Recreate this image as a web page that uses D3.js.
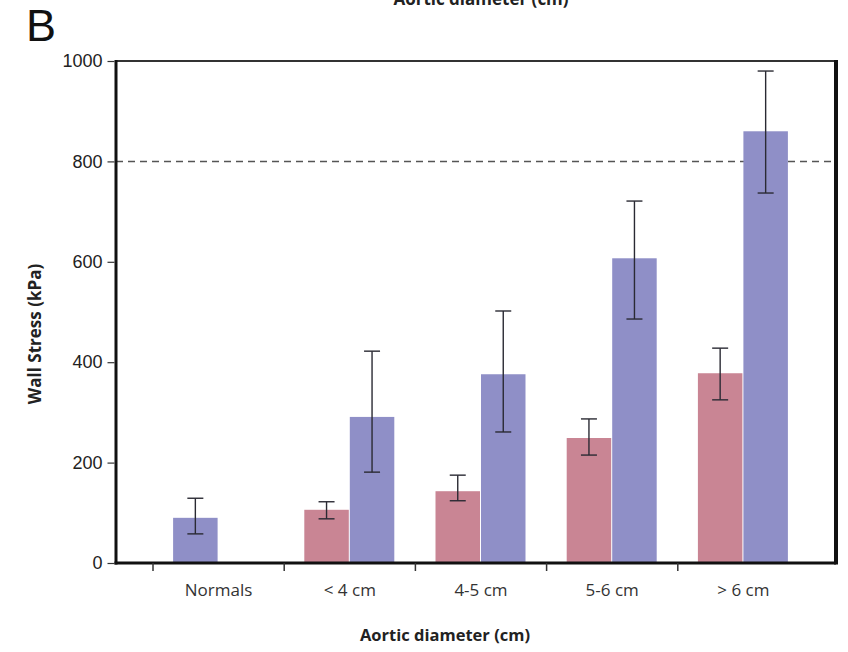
<!DOCTYPE html>
<html>
<head>
<meta charset="utf-8">
<script src="https://cdn.jsdelivr.net/npm/d3@7"></script>
<style>
    body { margin: 0; background: #fff; }
    svg { display: block; }
</style>
</head>
<body>
<svg id="chart" width="848" height="652"></svg>
<script>
// Data
const categories = ['Normals', '< 4 cm', '4-5 cm', '5-6 cm', '> 6 cm'];
const seriesKeys = ['pink', 'blue'];
const pinkValues = [null, 106, 143, 249, 378];
const pinkErrLow = [null, 88, 124, 215, 325];
const pinkErrHigh = [null, 122, 175, 287, 428];
const blueValues = [90, 291, 376, 607, 860];
const blueErrLow = [58, 181, 261, 486, 737];
const blueErrHigh = [129, 422, 502, 721, 980];
const yTicks = [0, 200, 400, 600, 800, 1000];
const thresholdValue = 800;

const colors = { pink: '#c98594', blue: '#8f8fc7' };

const plot = { left: 116, right: 836, top: 61, bottom: 563 };
const bandStart = 153;
const bandEnd = 809;
const pairWidth = 91;

const svg = d3.select('#chart');

const y = d3.scaleLinear().domain([0, 1000]).range([plot.bottom, plot.top]);
const x = d3.scaleBand().domain(categories).range([bandStart, bandEnd]).padding(0);
const xSub = d3.scaleBand().domain(seriesKeys).range([0, pairWidth]).padding(0);
const subOffset = (x.bandwidth() - pairWidth) / 2;

// build bar records; a lone bar takes the first slot of its group
const bars = [];
categories.forEach((cat, i) => {
    let slot = 0;
    const add = (key, value, lo, hi) => {
        if (value === null) return;
        bars.push({ cat: cat, key: key, slot: seriesKeys[slot], value: value, lo: lo, hi: hi });
        slot++;
    };
    add('pink', pinkValues[i], pinkErrLow[i], pinkErrHigh[i]);
    add('blue', blueValues[i], blueErrLow[i], blueErrHigh[i]);
});

// dashed threshold line (behind bars)
svg.append('line')
    .attr('x1', plot.left)
    .attr('x2', plot.right)
    .attr('y1', y(thresholdValue))
    .attr('y2', y(thresholdValue))
    .attr('stroke', '#555')
    .attr('stroke-width', 1.5)
    .attr('stroke-dasharray', '7,5');

const barX = (d) => x(d.cat) + subOffset + xSub(d.slot);

svg.append('g').selectAll('rect')
    .data(bars)
    .enter()
    .append('rect')
    .attr('x', barX)
    .attr('y', (d) => y(d.value))
    .attr('width', xSub.bandwidth() - 1)
    .attr('height', (d) => y(0) - y(d.value))
    .attr('fill', (d) => colors[d.key]);

// error bars
const capHalf = 8;
const gErr = svg.append('g')
    .attr('stroke', '#2a2a33')
    .attr('stroke-width', 1.4);
bars.forEach((d) => {
    const cx = barX(d) + (xSub.bandwidth() - 1) / 2;
    gErr.append('line').attr('x1', cx).attr('x2', cx).attr('y1', y(d.lo)).attr('y2', y(d.hi));
    gErr.append('line').attr('x1', cx - capHalf).attr('x2', cx + capHalf).attr('y1', y(d.lo)).attr('y2', y(d.lo));
    gErr.append('line').attr('x1', cx - capHalf).attr('x2', cx + capHalf).attr('y1', y(d.hi)).attr('y2', y(d.hi));
});

// frame
svg.append('line').attr('x1', plot.left).attr('x2', plot.right).attr('y1', plot.top).attr('y2', plot.top)
    .attr('stroke', '#333').attr('stroke-width', 2);
svg.append('line').attr('x1', plot.right).attr('x2', plot.right).attr('y1', plot.top - 1).attr('y2', plot.bottom + 1.5)
    .attr('stroke', '#111').attr('stroke-width', 4);
svg.append('line').attr('x1', plot.left).attr('x2', plot.left).attr('y1', plot.top - 1).attr('y2', plot.bottom + 1.5)
    .attr('stroke', '#111').attr('stroke-width', 3);
svg.append('line').attr('x1', plot.left - 1.5).attr('x2', plot.right).attr('y1', plot.bottom).attr('y2', plot.bottom)
    .attr('stroke', '#111').attr('stroke-width', 3);

// y axis
const yAxis = d3.axisLeft(y).tickValues(yTicks).tickSizeInner(7).tickSizeOuter(0).tickPadding(5).tickFormat(d3.format('d'));
const gY = svg.append('g').attr('transform', 'translate(' + (plot.left - 1.5) + ',0)').call(yAxis);
gY.select('.domain').remove();
gY.selectAll('line').attr('stroke', '#333').attr('stroke-width', 1.2);
gY.selectAll('text')
    .attr('font-family', '"Liberation Sans", Arial, sans-serif')
    .attr('font-size', 18)
    .attr('fill', '#222');

// x axis: ticks on group boundaries, labels centered in groups
const gX = svg.append('g');
gX.selectAll('line')
    .data(categories)
    .enter()
    .append('line')
    .attr('x1', (d) => x(d))
    .attr('x2', (d) => x(d))
    .attr('y1', plot.bottom)
    .attr('y2', plot.bottom + 8)
    .attr('stroke', '#333')
    .attr('stroke-width', 1.5);
gX.selectAll('text')
    .data(categories)
    .enter()
    .append('text')
    .attr('x', (d) => x(d) + x.bandwidth() / 2)
    .attr('y', 596)
    .attr('text-anchor', 'middle')
    .attr('font-family', '"Open Sans", sans-serif')
    .attr('font-size', 17)
    .attr('fill', '#333')
    .text((d) => d);

// titles
svg.append('text')
    .attr('x', 445)
    .attr('y', 641)
    .attr('text-anchor', 'middle')
    .attr('font-family', '"Open Sans", sans-serif')
    .attr('font-weight', 'bold')
    .attr('font-size', 16.5)
    .attr('fill', '#222')
    .text('Aortic diameter (cm)');

svg.append('text')
    .attr('transform', 'translate(41,334) rotate(-90)')
    .attr('text-anchor', 'middle')
    .attr('font-family', '"Open Sans", sans-serif')
    .attr('font-weight', 'bold')
    .attr('font-size', 17)
    .attr('fill', '#222')
    .text('Wall Stress (kPa)');

// title of the panel above, cut off by the crop
svg.append('text')
    .attr('x', 481)
    .attr('y', 5)
    .attr('text-anchor', 'middle')
    .attr('font-family', '"Open Sans", sans-serif')
    .attr('font-weight', 'bold')
    .attr('font-size', 17)
    .attr('fill', '#222')
    .text('Aortic diameter (cm)');

svg.append('text')
    .attr('x', 26)
    .attr('y', 41)
    .attr('font-family', '"Liberation Sans", Arial, sans-serif')
    .attr('font-size', 45)
    .attr('fill', '#111')
    .text('B');
</script>
</body>
</html>
